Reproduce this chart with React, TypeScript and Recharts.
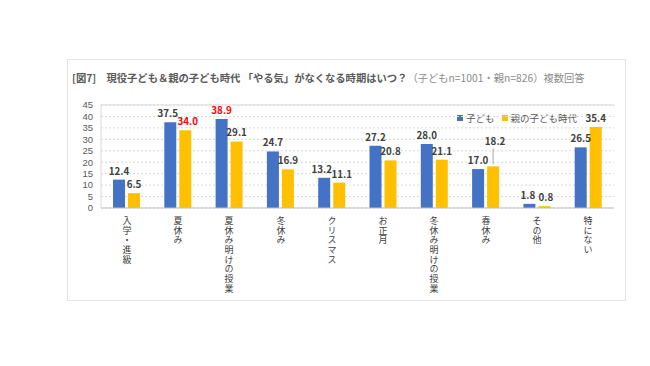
import React from 'react';
import { BarChart, Bar, XAxis, YAxis, CartesianGrid, LabelList, ReferenceLine } from 'recharts';

const categories = ['入学・進級', '夏休み', '夏休み明けの授業', '冬休み', 'クリスマス', 'お正月', '冬休み明けの授業', '春休み', 'その他', '特にない'];
const childValues = [12.4, 37.5, 38.9, 24.7, 13.2, 27.2, 28.0, 17.0, 1.8, 26.5];
const parentValues = [6.5, 34.0, 29.1, 16.9, 11.1, 20.8, 21.1, 18.2, 0.8, 35.4];
const yTicks = [0, 5, 10, 15, 20, 25, 30, 35, 40, 45];
const seriesNames = ['子ども', '親の子ども時代'];
const childHighlight = [2];
const parentHighlight = [1];

const data = categories.map((c, i) => ({ name: c, child: childValues[i], parent: parentValues[i] }));

const BLUE = '#4472C4';
const YELLOW = '#FFC000';
const FONT = '"Noto Sans CJK JP", "Noto Sans", sans-serif';
const NUM_FONT = '"Liberation Sans", Arial, sans-serif';

// horizontal label nudges (px) to keep neighbouring labels apart, as in the original
const childNudge: Record<number, number> = { 1: -2.5, 4: -2.5, 8: -1.5 };
const parentNudge: Record<number, number> = { 1: 2.5, 4: 2.5, 8: 1.5 };

const VerticalTick = (props: any) => {
  const { x, y, payload } = props;
  return (
    <text
      x={Math.round(x)}
      y={y + 8}
      fontSize={9}
      fill="#404040"
      fontFamily={FONT}
      style={{ writingMode: 'vertical-rl', letterSpacing: 0.7 }}
    >
      {String(payload.value)}
    </text>
  );
};

const makeLabel = (highlight: number[], nudge: Record<number, number>, leaderIndex: number | null) => (props: any) => {
  const { x, y, width, value, index } = props;
  const cx = Number(x) + Number(width) / 2;
  const red = highlight.includes(index);
  const lifted = index === leaderIndex;
  const ty = Number(y) - 5 - (lifted ? 16 : 0);
  const dx = (nudge[index] || 0) + (lifted ? 2 : 0);
  return (
    <g>
      {lifted && (
        <line x1={cx} x2={cx} y1={Number(y) - 2} y2={ty + 3} stroke="#a6a6a6" strokeWidth={1} />
      )}
      <text
        x={cx + dx}
        y={ty}
        textAnchor="middle"
        fontSize={9.8}
        fontWeight="bold"
        fill={red ? '#FF0000' : '#404040'}
        fontFamily={FONT}
      >
        {Number(value).toFixed(1)}
      </text>
    </g>
  );
};

export default function App() {
  return (
    <div style={{ position: 'absolute', left: 0, top: 0, width: 650, height: 366, background: '#fff', fontFamily: FONT }}>
      <div
        style={{
          position: 'absolute',
          left: 67,
          top: 59,
          width: 559,
          height: 242,
          border: '1px solid #e4e4e4',
          boxSizing: 'border-box',
        }}
      />
      <div
        style={{
          position: 'absolute',
          left: 72,
          top: 70,
          fontSize: 10.3,
          whiteSpace: 'nowrap',
          color: '#595959',
          lineHeight: '15px',
        }}
      >
        <span style={{ fontWeight: 'bold' }}>[図7]　現役子ども＆親の子ども時代 「やる気」がなくなる時期はいつ？</span>
        <span style={{ color: '#8c8c8c' }}>（子どもn=1001・親n=826）複数回答</span>
      </div>
      <div
        style={{
          position: 'absolute',
          left: 457,
          top: 111,
          fontSize: 9.5,
          color: '#595959',
          display: 'flex',
          alignItems: 'center',
          whiteSpace: 'nowrap',
          lineHeight: '14px',
        }}
      >
        <span style={{ display: 'inline-block', width: 6, height: 6, background: BLUE, marginRight: 3 }} />
        <span style={{ marginRight: 7 }}>{seriesNames[0]}</span>
        <span style={{ display: 'inline-block', width: 6, height: 6, background: YELLOW, marginRight: 3 }} />
        <span>{seriesNames[1]}</span>
      </div>
      <div style={{ position: 'absolute', left: 0, top: 0 }}>
        <BarChart
          width={650}
          height={366}
          data={data}
          margin={{ top: 105, right: 36, bottom: 0, left: 61 }}
          barGap={3}
          barSize={12}
        >
          <CartesianGrid vertical={false} stroke="#d9d9d9" strokeDasharray="2 2" />
          <ReferenceLine y={45} stroke="#d9d9d9" />
          <XAxis
            dataKey="name"
            height={158}
            tickLine={false}
            tickSize={0}
            tickMargin={0}
            axisLine={{ stroke: '#bfbfbf' }}
            tick={<VerticalTick />}
            interval={0}
          />
          <YAxis
            width={40}
            domain={[0, 45]}
            ticks={yTicks}
            tickLine={false}
            axisLine={{ stroke: '#d9d9d9' }}
            tick={{ fontSize: 9.5, fill: '#595959', fontFamily: NUM_FONT }}
            interval={0}
          />
          <YAxis
            yAxisId="r"
            orientation="right"
            width={0}
            tick={false}
            tickLine={false}
            axisLine={{ stroke: '#d9d9d9' }}
          />
          <Bar dataKey="child" fill={BLUE} isAnimationActive={false}>
            <LabelList dataKey="child" content={makeLabel(childHighlight, childNudge, null)} />
          </Bar>
          <Bar dataKey="parent" fill={YELLOW} isAnimationActive={false}>
            <LabelList dataKey="parent" content={makeLabel(parentHighlight, parentNudge, 7)} />
          </Bar>
        </BarChart>
      </div>
    </div>
  );
}
